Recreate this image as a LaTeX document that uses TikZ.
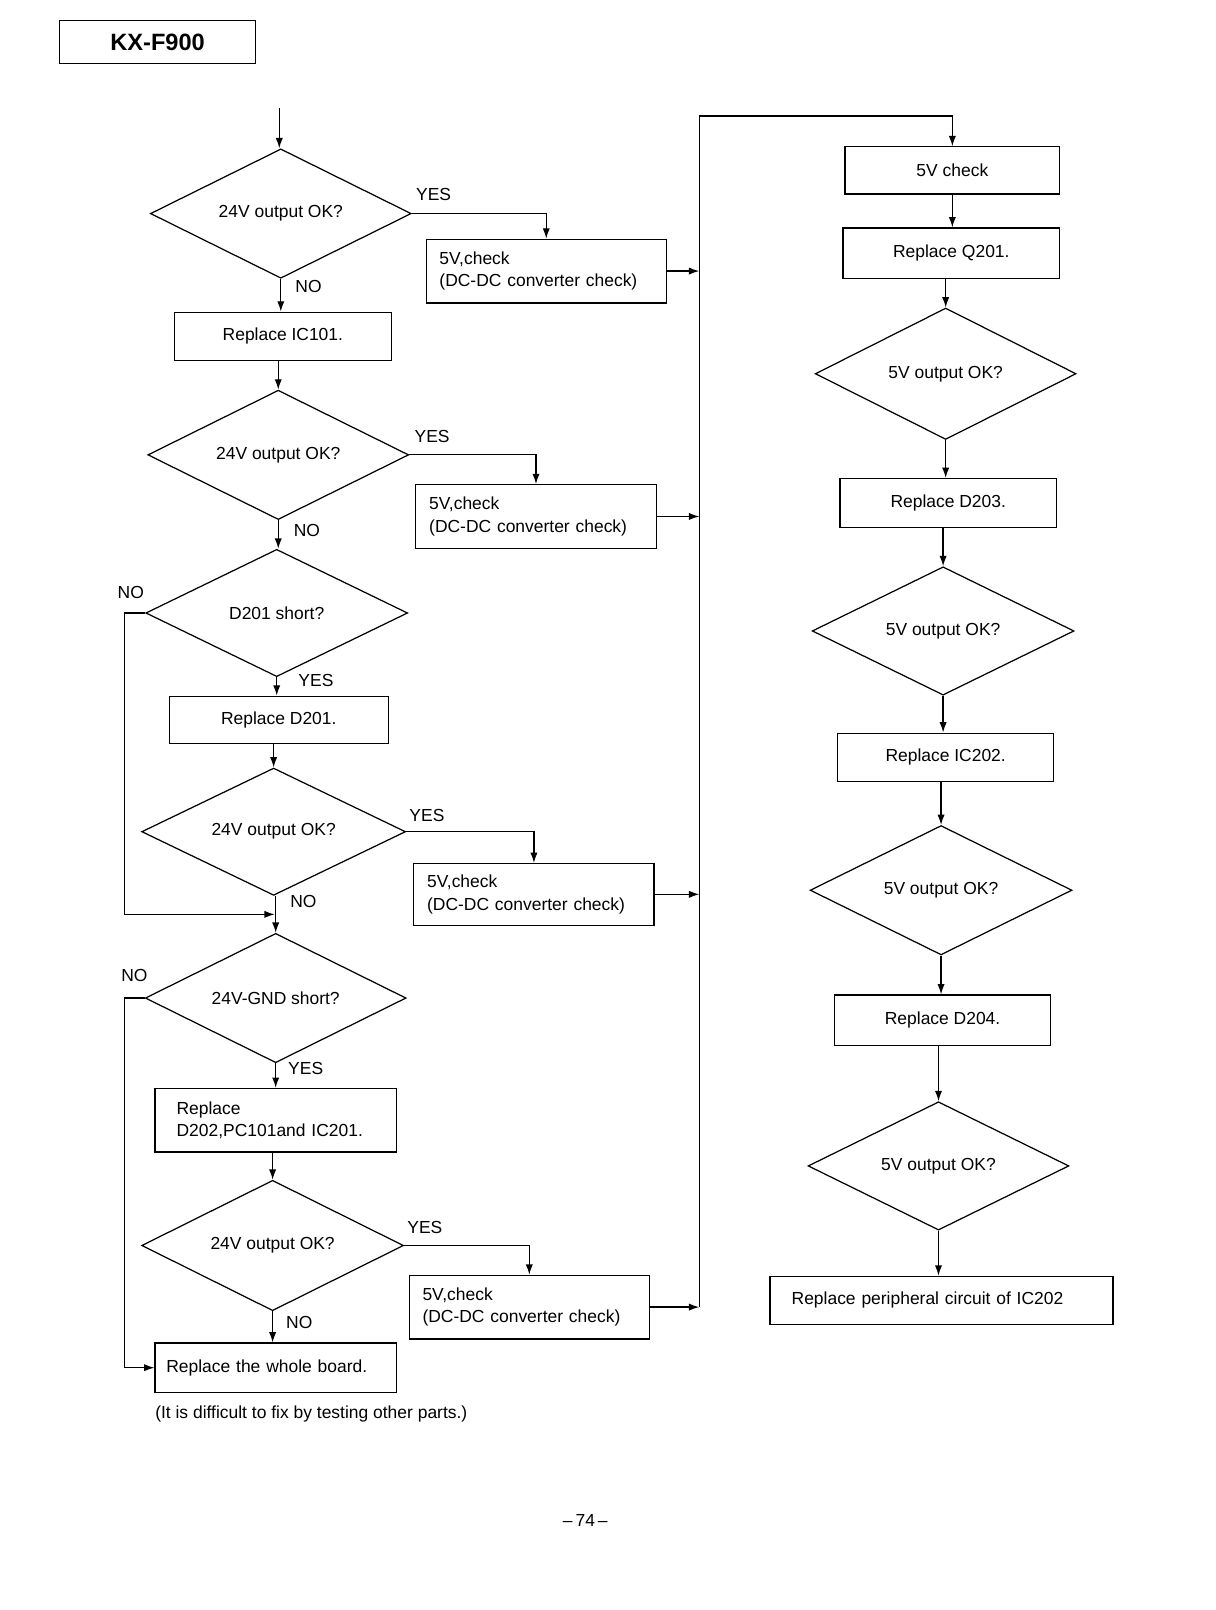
\documentclass[tikz,border=0pt]{standalone}
\usepackage{fontspec}
\setmainfont{Liberation Sans}
\usetikzlibrary{shapes.geometric,arrows.meta,calc}

\tikzset{
  box/.style={draw, rectangle, line width=1.2pt, inner sep=0pt, font=\fontsize{17}{22}\selectfont},
  chk/.style={box, minimum height=62pt, text width=208pt, inner xsep=13pt, align=left},
  dec/.style={draw, diamond, aspect=2, line width=1.2pt, inner sep=0pt, minimum width=254pt, minimum height=126pt, font=\fontsize{17}{22}\selectfont},
  lbl/.style={inner sep=0pt, font=\fontsize{17}{20}\selectfont},
  wire/.style={line width=1.2pt},
  flow/.style={wire, -{Latex[length=10pt,width=7pt]}},
}

\begin{document}
\begin{tikzpicture}[x=1pt,y=1pt,yscale=-1]
\useasboundingbox (0,0) rectangle (1184,1568);

%Title
\node[box, minimum width=191pt, minimum height=42pt, font=\fontsize{23}{26}\selectfont\bfseries] (model) at (153.5,41) {KX-F900};

%Left column
\coordinate (entry) at (272,105);
\node[dec] (d1) at (273.5,208) {24V output OK?};
\node[chk] (c1) at (532,264) {5V,check\\(DC-DC converter check)};
\node[box, minimum width=211pt, minimum height=47pt] (r101) at (275.5,327.5) {Replace IC101.};
\node[dec] (d2) at (271,443) {24V output OK?};
\node[chk] (c2) at (522,503) {5V,check\\(DC-DC converter check)};
\node[dec, minimum width=255pt, minimum height=124pt] (d3) at (269.5,597) {D201 short?};
\node[box, minimum width=213pt, minimum height=46pt] (r201) at (271.5,701) {Replace D201.};
\node[dec, minimum width=257pt, minimum height=124pt] (d4) at (266.5,810) {24V output OK?};
\node[chk, minimum height=60pt] (c3) at (520,871) {5V,check\\(DC-DC converter check)};
\node[dec] (d5) at (268.5,972) {24V-GND short?};
\node[box, minimum height=62pt, text width=193pt, inner xsep=21pt, align=left] (r202) at (268.5,1091) {Replace\\D202,PC101and IC201.};
\node[dec, minimum width=255pt, minimum height=127pt] (d6) at (265.5,1213) {24V output OK?};
\node[chk] (c4) at (515.5,1273) {5V,check\\(DC-DC converter check)};
\node[box, minimum height=48pt, text width=213pt, inner xsep=11pt, align=left] (whole) at (268.5,1332) {Replace the whole board.};
\node[lbl, anchor=west] (note) at (151,1377) {(It is difficult to fix by testing other parts.)};

%Right column
\coordinate (bus) at (681,113);
\node[box, minimum width=209pt, minimum height=46pt] (v5) at (927.5,166) {5V check};
\node[box, minimum width=211pt, minimum height=49pt] (rq) at (926.5,246.5) {Replace Q201.};
\node[dec, minimum height=128pt] (d7) at (921,364) {5V output OK?};
\node[box, minimum width=211pt, minimum height=48pt] (rd203) at (923.5,490) {Replace D203.};
\node[dec, minimum width=255pt, minimum height=125pt] (d8) at (918.5,614.5) {5V output OK?};
\node[box, minimum width=210pt, minimum height=47pt] (ric202) at (921,737.5) {Replace IC202.};
\node[dec, minimum width=255pt] (d9) at (916.5,867) {5V output OK?};
\node[box, minimum width=210pt, minimum height=49pt] (rd204) at (918,993.5) {Replace D204.};
\node[dec, minimum height=125pt] (d10) at (914,1135.5) {5V output OK?};
\node[box, minimum height=47pt, text width=292pt, inner xsep=21pt, align=left] (rper) at (917,1266.5) {Replace peripheral circuit of IC202};

\node[lbl] (page) at (570,1481) {\textendash\,74\,\textendash};

%Labels
\node[lbl, anchor=south west] (yes1) at ($(d1.east)+(4,-12)$) {YES};
\node[lbl, anchor=south west] (no1) at ($(d1.south)+(14,14)$) {NO};
\node[lbl, anchor=south west] (yes2) at ($(d2.east)+(5,-12)$) {YES};
\node[lbl, anchor=south west] (no2) at ($(d2.south)+(15,16)$) {NO};
\node[lbl, anchor=south west] (no3) at ($(d3.west)+(-27,-14)$) {NO};
\node[lbl, anchor=south west] (yes3) at ($(d3.south)+(21,9)$) {YES};
\node[lbl, anchor=south west] (yes4) at ($(d4.east)+(3,-10)$) {YES};
\node[lbl, anchor=south west] (no4) at ($(d4.south)+(16,12)$) {NO};
\node[lbl, anchor=south west] (no5) at ($(d5.west)+(-23,-16)$) {NO};
\node[lbl, anchor=south west] (yes5) at ($(d5.south)+(12,11)$) {YES};
\node[lbl, anchor=south west] (yes6) at ($(d6.east)+(3,-11)$) {YES};
\node[lbl, anchor=south west] (no6) at ($(d6.south)+(13,17)$) {NO};

%Connectors, left column
\draw[flow] (entry) -- (entry |- d1.north);
\draw[flow] (d1.south) -- (d1.south |- r101.north);
\draw[flow] (d2.north |- r101.south) -- (d2.north);
\draw[flow] (d2.south) -- (d2.south |- d3.north);
\draw[flow] (d3.south) -- (d3.south |- r201.north);
\draw[flow] (d4.north |- r201.south) -- (d4.north);
\draw[flow] (d5.north |- d4.south) -- (d5.north);
\draw[flow] (d5.south) -- (d5.south |- r202.north);
\draw[flow] (d6.north |- r202.south) -- (d6.north);
\draw[flow] (d6.south) -- (d6.south |- whole.north);
\draw[flow] (d3.west) -- ++(-20,0) |- ($(d4.south)!0.5!(d5.north)$);
\draw[flow] (d5.west) -- ++(-20,0) |- (whole.west);

%YES branches
\draw[flow] (d1.east) -| (c1.north);
\draw[flow] (d2.east) -| (c2.north);
\draw[flow] (d4.east) -| (c3.north);
\draw[flow] (d6.east) -| (c4.north);

%Bus to the right column
\draw[flow] (c1.east) -- (c1.east -| bus);
\draw[flow] (c2.east) -- (c2.east -| bus);
\draw[flow] (c3.east) -- (c3.east -| bus);
\draw[flow] (c4.east) -- (c4.east -| bus);
\draw[flow] (bus |- c4.east) -- (bus) -| (v5.north);

%Connectors, right column
\draw[flow] (v5.south) -- (v5.south |- rq.north);
\draw[flow] (d7.north |- rq.south) -- (d7.north);
\draw[flow] (d7.south) -- (d7.south |- rd203.north);
\draw[flow] (d8.north |- rd203.south) -- (d8.north);
\draw[flow] (d8.south) -- (d8.south |- ric202.north);
\draw[flow] (d9.north |- ric202.south) -- (d9.north);
\draw[flow] (d9.south) -- (d9.south |- rd204.north);
\draw[flow] (d10.north |- rd204.south) -- (d10.north);
\draw[flow] (d10.south) -- (d10.south |- rper.north);
\end{tikzpicture}
\end{document}
